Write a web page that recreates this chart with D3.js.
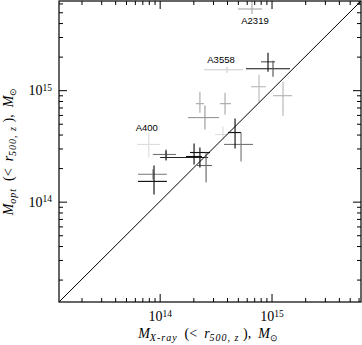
<!DOCTYPE html>
<html>
<head>
<meta charset="utf-8">
<script src="https://cdn.jsdelivr.net/npm/d3@7"></script>
<style>
  body { margin: 0; background: #fff; }
  svg { display: block; }
</style>
</head>
<body>
<div id="chart"></div>
<script>
// masses, in units of 1e14 Msun
var UNIT = 1e14;
var xMass = [6.69, 4.00, 9.30, 10.31, 7.73, 12.67, 2.29, 2.54, 3.84, 3.68, 4.72, 5.34, 0.80, 1.14, 1.14, 0.87, 0.89, 2.03, 2.29, 2.60];
var xLow  = [5.02, 2.49, 5.91, 8.05, 6.56, 10.31, 2.11, 1.79, 3.46, 3.12, 4.08, 3.76, 0.63, 0.87, 1.01, 0.64, 0.64, 1.72, 1.87, 2.16];
var xHigh = [8.22, 5.56, 14.64, 10.74, 8.93, 15.25, 2.49, 3.39, 4.34, 4.08, 5.34, 6.83, 1.01, 1.40, 2.71, 1.16, 1.16, 2.39, 2.82, 2.94];
var yMass = [53.5, 15.25, 15.56, 17.97, 10.74, 8.93, 7.57, 5.68, 7.57, 4.00, 4.17, 3.26, 3.26, 2.65, 2.49, 1.76, 1.52, 2.54, 2.76, 2.11];
var yLow  = [48.3, 14.33, 14.64, 13.20, 7.73, 5.91, 6.29, 4.43, 6.04, 3.61, 3.00, 2.29, 2.49, 2.39, 2.34, 1.58, 1.16, 2.16, 2.03, 1.49];
var yHigh = [66.0, 16.22, 21.63, 18.35, 13.75, 11.91, 9.69, 7.27, 9.50, 4.72, 5.56, 4.17, 4.17, 2.94, 2.88, 1.95, 2.11, 3.32, 3.06, 2.76];
var shade = ["#aaa", "#ccc", "#111", "#555", "#bbb", "#b5b5b5", "#aaa", "#999", "#aaa", "#ddd", "#111", "#777", "#ddd", "#777", "#222", "#888", "#111", "#111", "#111", "#666"];

var labelNames = ["A2319", "A3558", "A400"];
var labelIdx = [0, 1, 12];

var majorTicks = [1e14, 1e15];
var minorTicks = [];
[1e13, 1e14, 1e15].forEach(function (p) {
  for (var k = 2; k <= 9; k++) minorTicks.push(k * p);
});

var margin = { top: 1, right: 1, bottom: 42, left: 59 },
  width = 362 - margin.left - margin.right,
  height = 345 - margin.top - margin.bottom - 1;

var svg = d3.select("#chart")
  .append("svg")
  .attr("width", 362)
  .attr("height", 345)
  .append("g")
  .attr("transform", "translate(" + margin.left + "," + margin.top + ")");

var lo = Math.pow(10, 13.1), hi = Math.pow(10, 15.8);
minorTicks = minorTicks.filter(function (v) { return v > lo && v < hi; });

var x = d3.scaleLog().domain([lo, hi]).range([0, width]);
var y = d3.scaleLog().domain([lo, hi]).range([height, 0]);

svg.append("clipPath").attr("id", "clip")
  .append("rect").attr("width", width).attr("height", height);

// error crosses
var pts = xMass.map(function (d, i) { return i; });
var marks = svg.append("g").attr("clip-path", "url(#clip)");

marks.selectAll("line.h")
  .data(pts)
  .enter()
  .append("line")
  .attr("x1", function (i) { return x(xLow[i] * UNIT); })
  .attr("x2", function (i) { return x(xHigh[i] * UNIT); })
  .attr("y1", function (i) { return y(yMass[i] * UNIT); })
  .attr("y2", function (i) { return y(yMass[i] * UNIT); })
  .attr("stroke", function (i) { return shade[i]; })
  .attr("stroke-width", 1.15);

marks.selectAll("line.v")
  .data(pts)
  .enter()
  .append("line")
  .attr("x1", function (i) { return x(xMass[i] * UNIT); })
  .attr("x2", function (i) { return x(xMass[i] * UNIT); })
  .attr("y1", function (i) { return y(yLow[i] * UNIT); })
  .attr("y2", function (i) { return y(yHigh[i] * UNIT); })
  .attr("stroke", function (i) { return shade[i]; })
  .attr("stroke-width", 1.15);

// one-to-one line
marks.append("line")
  .attr("x1", x(lo)).attr("y1", y(lo))
  .attr("x2", x(hi)).attr("y2", y(hi))
  .attr("stroke", "#000")
  .attr("stroke-width", 1);

// cluster names
var labelOffset = [[3, 15], [-6, -7], [-2, -13]];
svg.selectAll("text.cl")
  .data(labelNames)
  .enter()
  .append("text")
  .attr("x", function (d, j) { return x(xMass[labelIdx[j]] * UNIT) + labelOffset[j][0]; })
  .attr("y", function (d, j) { return y(yMass[labelIdx[j]] * UNIT) + labelOffset[j][1]; })
  .attr("text-anchor", "middle")
  .style("font-family", "'Liberation Sans', Arial, sans-serif")
  .style("font-size", "9.5px")
  .text(function (d) { return d; });

// axes, ticks inside on all four sides
function power(g) {
  g.selectAll(".tick text").each(function (d) {
    var t = d3.select(this);
    t.text("10");
    t.append("tspan").attr("dy", "-0.45em").style("font-size", "9.5px")
      .text(Math.round(Math.log10(d)));
  });
}

function addAxis(axis, tr, ticks, size, labelled, pad) {
  var g = svg.append("g")
    .attr("transform", tr)
    .call(axis.tickValues(ticks).tickSizeInner(-size).tickSizeOuter(0)
      .tickPadding(pad || 3)
      .tickFormat(labelled ? null : function () { return ""; }));
  g.select(".domain").remove();
  g.selectAll("line").attr("stroke-width", 1);
  g.selectAll("text")
    .style("font-family", "'Liberation Serif', 'Times New Roman', serif")
    .style("font-size", "14px");
  if (labelled) power(g);
  return g;
}

addAxis(d3.axisBottom(x), "translate(0," + height + ")", majorTicks, 8, true, 9);
addAxis(d3.axisBottom(x), "translate(0," + height + ")", minorTicks, 4, false);
addAxis(d3.axisTop(x), "translate(0,0)", majorTicks, 8, false);
addAxis(d3.axisTop(x), "translate(0,0)", minorTicks, 4, false);
addAxis(d3.axisLeft(y), "translate(0,0)", majorTicks, 8, true, 7);
addAxis(d3.axisLeft(y), "translate(0,0)", minorTicks, 4, false);
addAxis(d3.axisRight(y), "translate(" + width + ",0)", majorTicks, 8, false);
addAxis(d3.axisRight(y), "translate(" + width + ",0)", minorTicks, 4, false);

svg.append("rect")
  .attr("width", width)
  .attr("height", height)
  .attr("fill", "none")
  .attr("stroke", "#000")
  .attr("stroke-width", 1.2);

// axis titles
function title(t, sub) {
  t.style("font-family", "'Liberation Serif', 'Times New Roman', serif")
    .style("font-size", "14px")
    .style("white-space", "pre");
  t.append("tspan").style("font-style", "italic").text("M");
  t.append("tspan").style("font-style", "italic").style("font-size", "10px")
    .style("letter-spacing", "1px").attr("dy", 3).text(sub);
  t.append("tspan").attr("dy", -3).text("  (<  ");
  t.append("tspan").style("font-style", "italic").text("r");
  t.append("tspan").style("font-style", "italic").style("font-size", "10px")
    .style("letter-spacing", "1px").attr("dy", 3).text("500, z");
  t.append("tspan").attr("dy", -3).text(" ),  ");
  t.append("tspan").style("font-style", "italic").text("M");
  t.append("tspan").style("font-size", "9px").attr("dy", 3).text("\u2299");
}

svg.append("text")
  .attr("x", width / 2 - 2)
  .attr("y", height + 36)
  .attr("text-anchor", "middle")
  .call(title, "X-ray");

svg.append("text")
  .attr("transform", "translate(" + (-46) + "," + (height / 2) + ")rotate(-90)")
  .attr("text-anchor", "middle")
  .call(title, "opt");
</script>
</body>
</html>
